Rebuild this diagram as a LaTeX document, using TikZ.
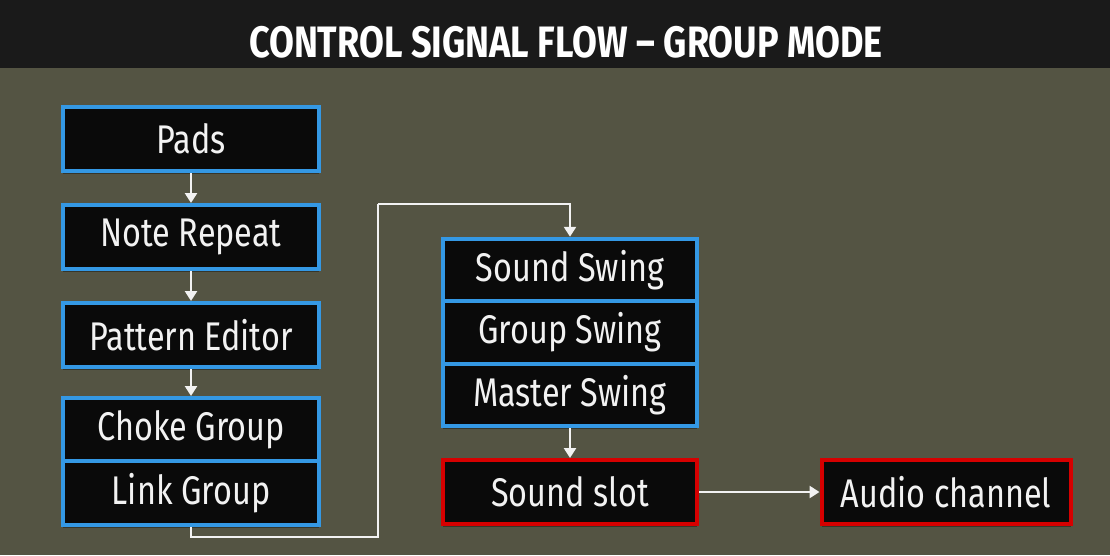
\documentclass[tikz,border=0pt]{standalone}
\usepackage{fontspec}
\setmainfont{Fira Sans}[FakeStretch=0.81]
\newfontfamily\titlefont{Fira Sans}[FakeStretch=0.82]
\usepackage{tikz}
\usetikzlibrary{positioning}
\usetikzlibrary{arrows.meta}
\usetikzlibrary{shadows}
\usepackage{xcolor}
\definecolor{olivebg}{RGB}{84,84,67}
\definecolor{headbar}{RGB}{26,26,26}
\definecolor{padblue}{RGB}{52,152,228}
\definecolor{slotred}{RGB}{214,0,0}
\definecolor{boxfill}{RGB}{10,10,10}
\definecolor{labelwhite}{RGB}{242,242,242}

\tikzset{
    box/.style={draw, rectangle, line width=4pt, fill=boxfill,
        text=labelwhite, font=\fontsize{40}{46}\selectfont,
        minimum height=64pt, inner sep=0pt,
        drop shadow={shadow xshift=0pt, shadow yshift=-3pt, opacity=0.35, fill=black}},
    bluebox/.style={box, draw=padblue, minimum width=256pt},
    redbox/.style={box, draw=slotred},
    flow/.style={draw=labelwhite, line width=2.5pt,
        -{Triangle[width=12pt,length=10pt]}},
    wire/.style={draw=labelwhite, line width=2.5pt}
}

\begin{document}
\begin{tikzpicture}[x=1pt, y=-1pt]
    % Background and header
    \fill[olivebg] (0,0) rectangle (1110,555);
    \useasboundingbox (0,0) rectangle (1110,555);
    \fill[headbar] (0,0) rectangle (1110,68);
    \node[text=white, font=\titlefont\bfseries\fontsize{44}{50}\selectfont] (title) at (566,42) {CONTROL SIGNAL FLOW – GROUP MODE};

    % Left column
    \node[bluebox] (pads) at (191,139) {Pads};
    \node[bluebox] (note) at (191,237) {Note Repeat};
    \node[bluebox] (pattern) at (191,335) {Pattern Editor};
    \node[bluebox] (choke) at (191,430) {Choke Group};
    \node[bluebox] (link) at (191,493) {Link Group};
    \draw[flow] (pads) -- (note);
    \draw[flow] (note) -- (pattern);
    \draw[flow] (pattern) -- (choke);

    % Swing stack
    \node[bluebox, minimum width=254pt, minimum height=62.5pt] (sswing) at (570,270) {Sound Swing};
    \node[bluebox, minimum width=254pt, minimum height=62.5pt] (gswing) at (570,332.5) {Group Swing};
    \node[bluebox, minimum width=254pt, minimum height=62.5pt] (mswing) at (570,395) {Master Swing};

    % Link Group to Sound Swing
    \coordinate (low) at (378,537);
    \coordinate (high) at (378,204);
    \draw[wire] (link.south) |- (low) -- (high);
    \draw[flow] (high) -| (sswing.north);

    % Output
    \node[redbox, minimum width=254pt] (slot) at (570,492) {Sound slot};
    \node[redbox, minimum width=249pt] (audio) at (946,492) {Audio channel};
    \draw[flow] (mswing) -- (slot);
    \draw[flow] (slot) -- (audio);
\end{tikzpicture}
\end{document}
